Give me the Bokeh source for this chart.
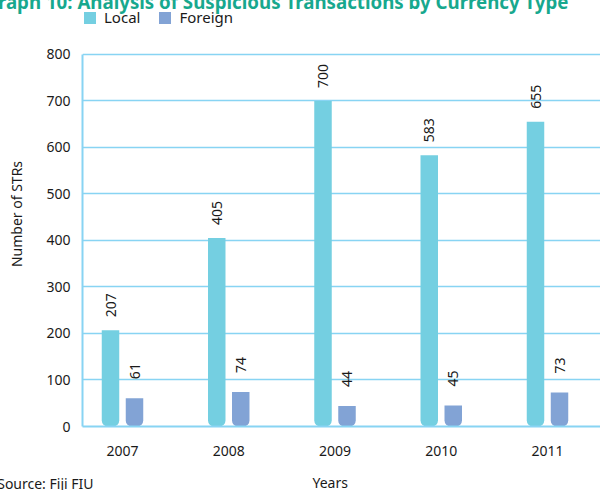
import numpy as np
from bokeh.plotting import figure
from bokeh.models import Range1d, FixedTicker, Legend, LegendItem, Title
from bokeh.core.properties import value
from bokeh.embed import file_html
from bokeh.resources import INLINE

# ---- data ----
years = [2007, 2008, 2009, 2010, 2011]
local = [207, 405, 700, 583, 655]
foreign = [61, 74, 44, 45, 73]
y_ticks = [0, 100, 200, 300, 400, 500, 600, 700, 800]
series_names = ["Local", "Foreign"]
title_text = "Graph 10: Analysis of Suspicious Transactions by Currency Type"
y_title = "Number of STRs"
x_title = "Years"
source_text = "Source: Fiji FIU"

# ---- style / layout ----
FONT = "Noto Sans"
C_LOCAL = "#74cfe1"
C_FOREIGN = "#82a3d5"
C_GRID = "#88d4f3"
C_TEXT = "#1a1a1a"
C_TITLE = "#17a88e"

W, H = 600, 490
LEFT = 82            # frame left edge
BOTTOM = 426         # frame bottom edge (y = 0)
PX_800 = 373         # pixels spanned by 0..800
px_per_year = 106.25
k = PX_800 / 800.0
frame_w = W - LEFT
x0 = years[0] - 40 / px_per_year
x1 = x0 + frame_w / px_per_year
y1 = BOTTOM / k

p = figure(width=W, height=H, output_backend="svg", toolbar_location=None,
           title=None, x_range=Range1d(x0, x1), y_range=Range1d(0, y1),
           min_border_left=LEFT, min_border_right=0, min_border_top=0,
           min_border_bottom=H - BOTTOM)
p.outline_line_color = None
p.background_fill_color = "white"
p.border_fill_color = "white"

bw = 17.5 / px_per_year
off = 12 / px_per_year
xl = [y - off for y in years]
xf = [y + off for y in years]

r1 = p.vbar(x=xl, top=local, bottom=0, width=bw, fill_color=C_LOCAL,
            line_color=None, border_radius=(0, 0, 6, 6))
r2 = p.vbar(x=xf, top=foreign, bottom=0, width=bw, fill_color=C_FOREIGN,
            line_color=None, border_radius=(0, 0, 6, 6))

p.text(x=xl, y=local, text=[str(v) for v in local], angle=np.pi / 2,
       text_align="left", text_baseline="middle", y_offset=-13,
       text_font=value(FONT), text_font_size="14px", text_color=C_TEXT)
p.text(x=xf, y=foreign, text=[str(v) for v in foreign], angle=np.pi / 2,
       text_align="left", text_baseline="middle", y_offset=-19,
       text_font=value(FONT), text_font_size="14px", text_color=C_TEXT)

# ---- axes ----
xa = p.xaxis[0]
ya = p.yaxis[0]
ya.ticker = FixedTicker(ticks=y_ticks)
ya.bounds = (0, 800)
xa.ticker = FixedTicker(ticks=years)
for ax in (xa, ya):
    ax.axis_line_color = C_GRID
    ax.axis_line_width = 2
    ax.major_tick_line_color = None
    ax.minor_tick_line_color = None
    ax.major_tick_out = 0
    ax.major_tick_in = 0
    ax.minor_tick_out = 0
    ax.major_label_text_font = FONT
    ax.major_label_text_font_size = "14px"
    ax.major_label_text_color = C_TEXT
    ax.axis_label_text_font = FONT
    ax.axis_label_text_font_size = "14px"
    ax.axis_label_text_font_style = "normal"
    ax.axis_label_text_color = C_TEXT
ya.major_label_standoff = 12
ya.axis_label = y_title
ya.axis_label_standoff = 17
xa.major_label_standoff = 19

p.xgrid.grid_line_color = None
p.ygrid.ticker = FixedTicker(ticks=y_ticks)
p.ygrid.grid_line_color = C_GRID
p.ygrid.grid_line_width = 1.6

TXT = dict(text_font=FONT, text_font_size="14px", text_font_style="normal",
           text_color=C_TEXT)
# blank spacer row between the year labels and the bottom text line
p.add_layout(Title(text="\u00a0", align="left", standoff=2, **TXT), "below")
# bottom text line: two near-zero-height panels, both centred on one line
p.add_layout(Title(text=x_title, align="left", offset=230,
                   vertical_align="middle", standoff=-20, **TXT), "below")
p.add_layout(Title(text=source_text, align="right", offset=W - 93,
                   vertical_align="middle", standoff=-20, **TXT), "below")

# chart title: near-zero-height panel at the very top (upper part cut off)
p.add_layout(Title(text=title_text, align="right", offset=32,
                   vertical_align="middle", standoff=-26.5, text_font=FONT,
                   text_font_size="18.7px", text_font_style="bold",
                   text_color=C_TITLE), "above")

# ---- legend (inside the tall frame, above the 800 line) ----
legend = Legend(items=[LegendItem(label=series_names[0], renderers=[r1]),
                       LegendItem(label=series_names[1], renderers=[r2])],
                orientation="horizontal", location=(0, BOTTOM - 27),
                glyph_width=15, glyph_height=15, padding=0, margin=0,
                spacing=17, label_standoff=7, background_fill_alpha=0,
                border_line_color=None, label_text_font=FONT,
                label_text_font_size="15px", label_text_color=C_TEXT,
                label_height=15)
p.add_layout(legend)

open("out.html", "w").write(file_html(p, INLINE))
